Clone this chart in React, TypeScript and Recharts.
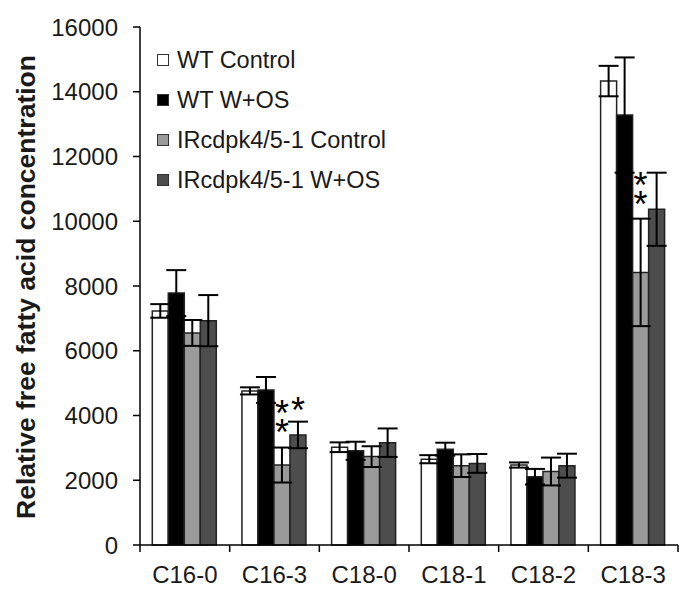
import React from 'react'
import { BarChart, Bar, XAxis, YAxis, ErrorBar, LabelList } from 'recharts'

const categories = ['C16-0', 'C16-3', 'C18-0', 'C18-1', 'C18-2', 'C18-3']
const wtControl = [7230, 4760, 3020, 2650, 2470, 14330]
const wtControlErr = [210, 110, 150, 125, 80, 470]
const wtWos = [7780, 4790, 2910, 2960, 2110, 13280]
const wtWosErr = [710, 400, 280, 200, 240, 1780]
const irControl = [6550, 2470, 2730, 2450, 2270, 8420]
const irControlErr = [400, 540, 320, 350, 430, 1660]
const irWos = [6930, 3400, 3160, 2520, 2450, 10370]
const irWosErr = [790, 410, 440, 290, 370, 1130]
const sigIrControl = ['', '**', '', '', '', '**']
const sigIrWos = ['', '*', '', '', '', '']
const yTicks = [0, 2000, 4000, 6000, 8000, 10000, 12000, 14000, 16000]

const series = [
  { key: 'wtControl', name: 'WT Control', fill: '#ffffff' },
  { key: 'wtWos', name: 'WT W+OS', fill: '#000000' },
  { key: 'irControl', name: 'IRcdpk4/5-1 Control', fill: '#9a9a9a' },
  { key: 'irWos', name: 'IRcdpk4/5-1 W+OS', fill: '#4d4d4d' },
]

const data = categories.map((name, i) => ({
  name,
  wtControl: wtControl[i],
  wtControlErr: wtControlErr[i],
  wtWos: wtWos[i],
  wtWosErr: wtWosErr[i],
  irControl: irControl[i],
  irControlErr: irControlErr[i],
  irWos: irWos[i],
  irWosErr: irWosErr[i],
}))

const FONT = '"Liberation Sans", Arial, sans-serif'
const W = 700
const H = 600
const LEFT = 140
const RIGHT = 22
const PLOT_W = W - LEFT - RIGHT
const STAR = 36

function XTick(props: any) {
  const { x, y, payload, index } = props
  const step = PLOT_W / categories.length
  return (
    <g>
      <line x1={x - step / 2} y1={y} x2={x - step / 2} y2={y + 7} stroke="#000" strokeWidth={1.5} />
      {index === categories.length - 1 && (
        <line x1={x + step / 2} y1={y} x2={x + step / 2} y2={y + 7} stroke="#000" strokeWidth={1.5} />
      )}
      <text x={x} y={y + 38} textAnchor="middle" fontSize={24} fontFamily={FONT} fill="#1a1a1a">
        {payload.value}
      </text>
    </g>
  )
}

// significance marks, stacked upward from just above the error bar
function Stars(props: any) {
  const { x, y, width, height, index, marks, vals, errs, gap } = props
  const m = marks[index]
  if (!m) return null
  const px = height / vals[index]
  const errTop = y - errs[index] * px
  const cx = x + width / 2
  const n = m.length
  const firstCenter = errTop - gap - (n - 1) * 19
  return (
    <text textAnchor="middle" fontSize={STAR} fontFamily={FONT} fill="#000">
      {m.split('').map((s: string, k: number) => (
        <tspan key={k} x={cx} y={firstCenter + k * 19 + STAR * 0.58}>
          {s}
        </tspan>
      ))}
    </text>
  )
}

function YLabel() {
  return (
    <text transform="rotate(-90)" x={-287} y={35} textAnchor="middle" fontSize={26.5} fontWeight="bold" fontFamily={FONT} fill="#1a1a1a">
      Relative free fatty acid concentration
    </text>
  )
}

export default function App() {
  return (
    <div style={{ position: 'absolute', left: 0, top: 0, width: W, height: H, background: '#fff' }}>
      <BarChart width={W} height={H} data={data} margin={{ top: 27, right: RIGHT, bottom: 0, left: 0 }} barCategoryGap="13.7%" barGap={0}>
        <XAxis dataKey="name" height={55} interval={0} tickSize={0} tickMargin={0} tick={<XTick />} axisLine={{ stroke: '#000', strokeWidth: 1.5 }} tickLine={false} />
        <YAxis
          width={LEFT}
          domain={[0, 16000]}
          ticks={yTicks}
          interval={0}
          tickSize={7}
          tickMargin={15}
          axisLine={{ stroke: '#000', strokeWidth: 1.5 }}
          tickLine={{ stroke: '#000', strokeWidth: 1.5 }}
          tick={{ fontSize: 24, fill: '#1a1a1a', fontFamily: FONT }}
          label={{ content: () => <YLabel /> }}
        />
        {series.map((s) => (
          <Bar key={s.key} dataKey={s.key} fill={s.fill} stroke="#222" strokeWidth={1.5} isAnimationActive={false}>
            <ErrorBar dataKey={s.key + 'Err'} width={10} stroke="#000" strokeWidth={2} direction="y" />
            {s.key === 'irControl' && (
              <LabelList dataKey="irControl" content={(p: any) => <Stars {...p} marks={sigIrControl} vals={irControl} errs={irControlErr} gap={23} />} />
            )}
            {s.key === 'irWos' && (
              <LabelList dataKey="irWos" content={(p: any) => <Stars {...p} marks={sigIrWos} vals={irWos} errs={irWosErr} gap={20} />} />
            )}
          </Bar>
        ))}
      </BarChart>
      <div style={{ position: 'absolute', left: 157, top: 40, fontFamily: FONT, fontSize: 23.5, color: '#1a1a1a' }}>
        {series.map((s) => (
          <div key={s.key} style={{ display: 'flex', alignItems: 'center', height: 40 }}>
            <span style={{ display: 'inline-block', width: 10, height: 10, background: s.fill, border: '1px solid #333', marginRight: 8 }} />
            <span style={{ lineHeight: '40px', whiteSpace: 'nowrap' }}>{s.name}</span>
          </div>
        ))}
      </div>
    </div>
  )
}
